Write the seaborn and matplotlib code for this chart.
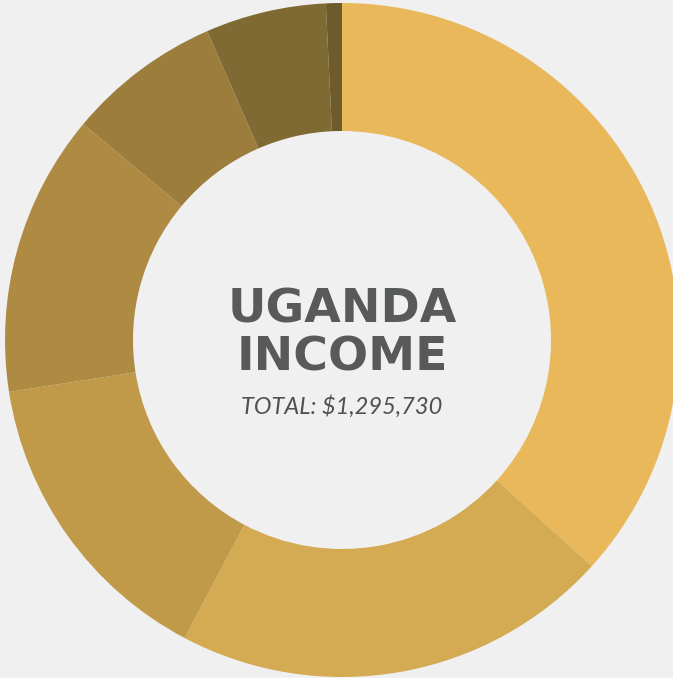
import numpy as np
import seaborn as sns
import matplotlib.pyplot as plt

# income sources (clockwise from 12 o'clock)
segments = ["A", "B", "C", "D", "E", "F", "G"]
amounts = [475700, 272400, 191800, 175300, 95700, 74900, 9930]
colors = ["#E8B85A", "#D4AA52", "#C09A48", "#AE8A42", "#9C7D3C", "#806A33", "#6E5B2B"]

title_lines = ["UGANDA", "INCOME"]
total_label = "TOTAL: $1,295,730"

sns.set_theme(style="white")
plt.rcParams['font.family'] = ['Lato', 'DejaVu Sans']

W, H = 673, 678
fig = plt.figure(figsize=(W / 100, H / 100), dpi=100)
fig.patch.set_facecolor("#F0F0F0")

cx, cy, R = 342, 340, 337
ax = fig.add_axes([(cx - R) / W, (H - cy - R) / H, 2 * R / W, 2 * R / H])
ax.set_facecolor("none")

ax.pie(amounts, colors=colors, startangle=90, counterclock=False,
       radius=1, wedgeprops=dict(width=1 - 209 / R, linewidth=0))
ax.set_xlim(-1, 1)
ax.set_ylim(-1, 1)
ax.set_aspect("equal")
ax.axis("off")

for line, ypix in zip(title_lines, [310, 358]):
    ax.text(0, (340 - ypix) / R, line, ha="center", va="center",
            fontsize=34, fontweight="bold", family="DejaVu Sans", color="#58595B")
ax.text(0, (340 - 406) / R, total_label, ha="center", va="center",
        fontsize=17, fontstyle="italic", color="#4F5052")

fig.savefig("out.png", dpi=100, facecolor=fig.get_facecolor())
